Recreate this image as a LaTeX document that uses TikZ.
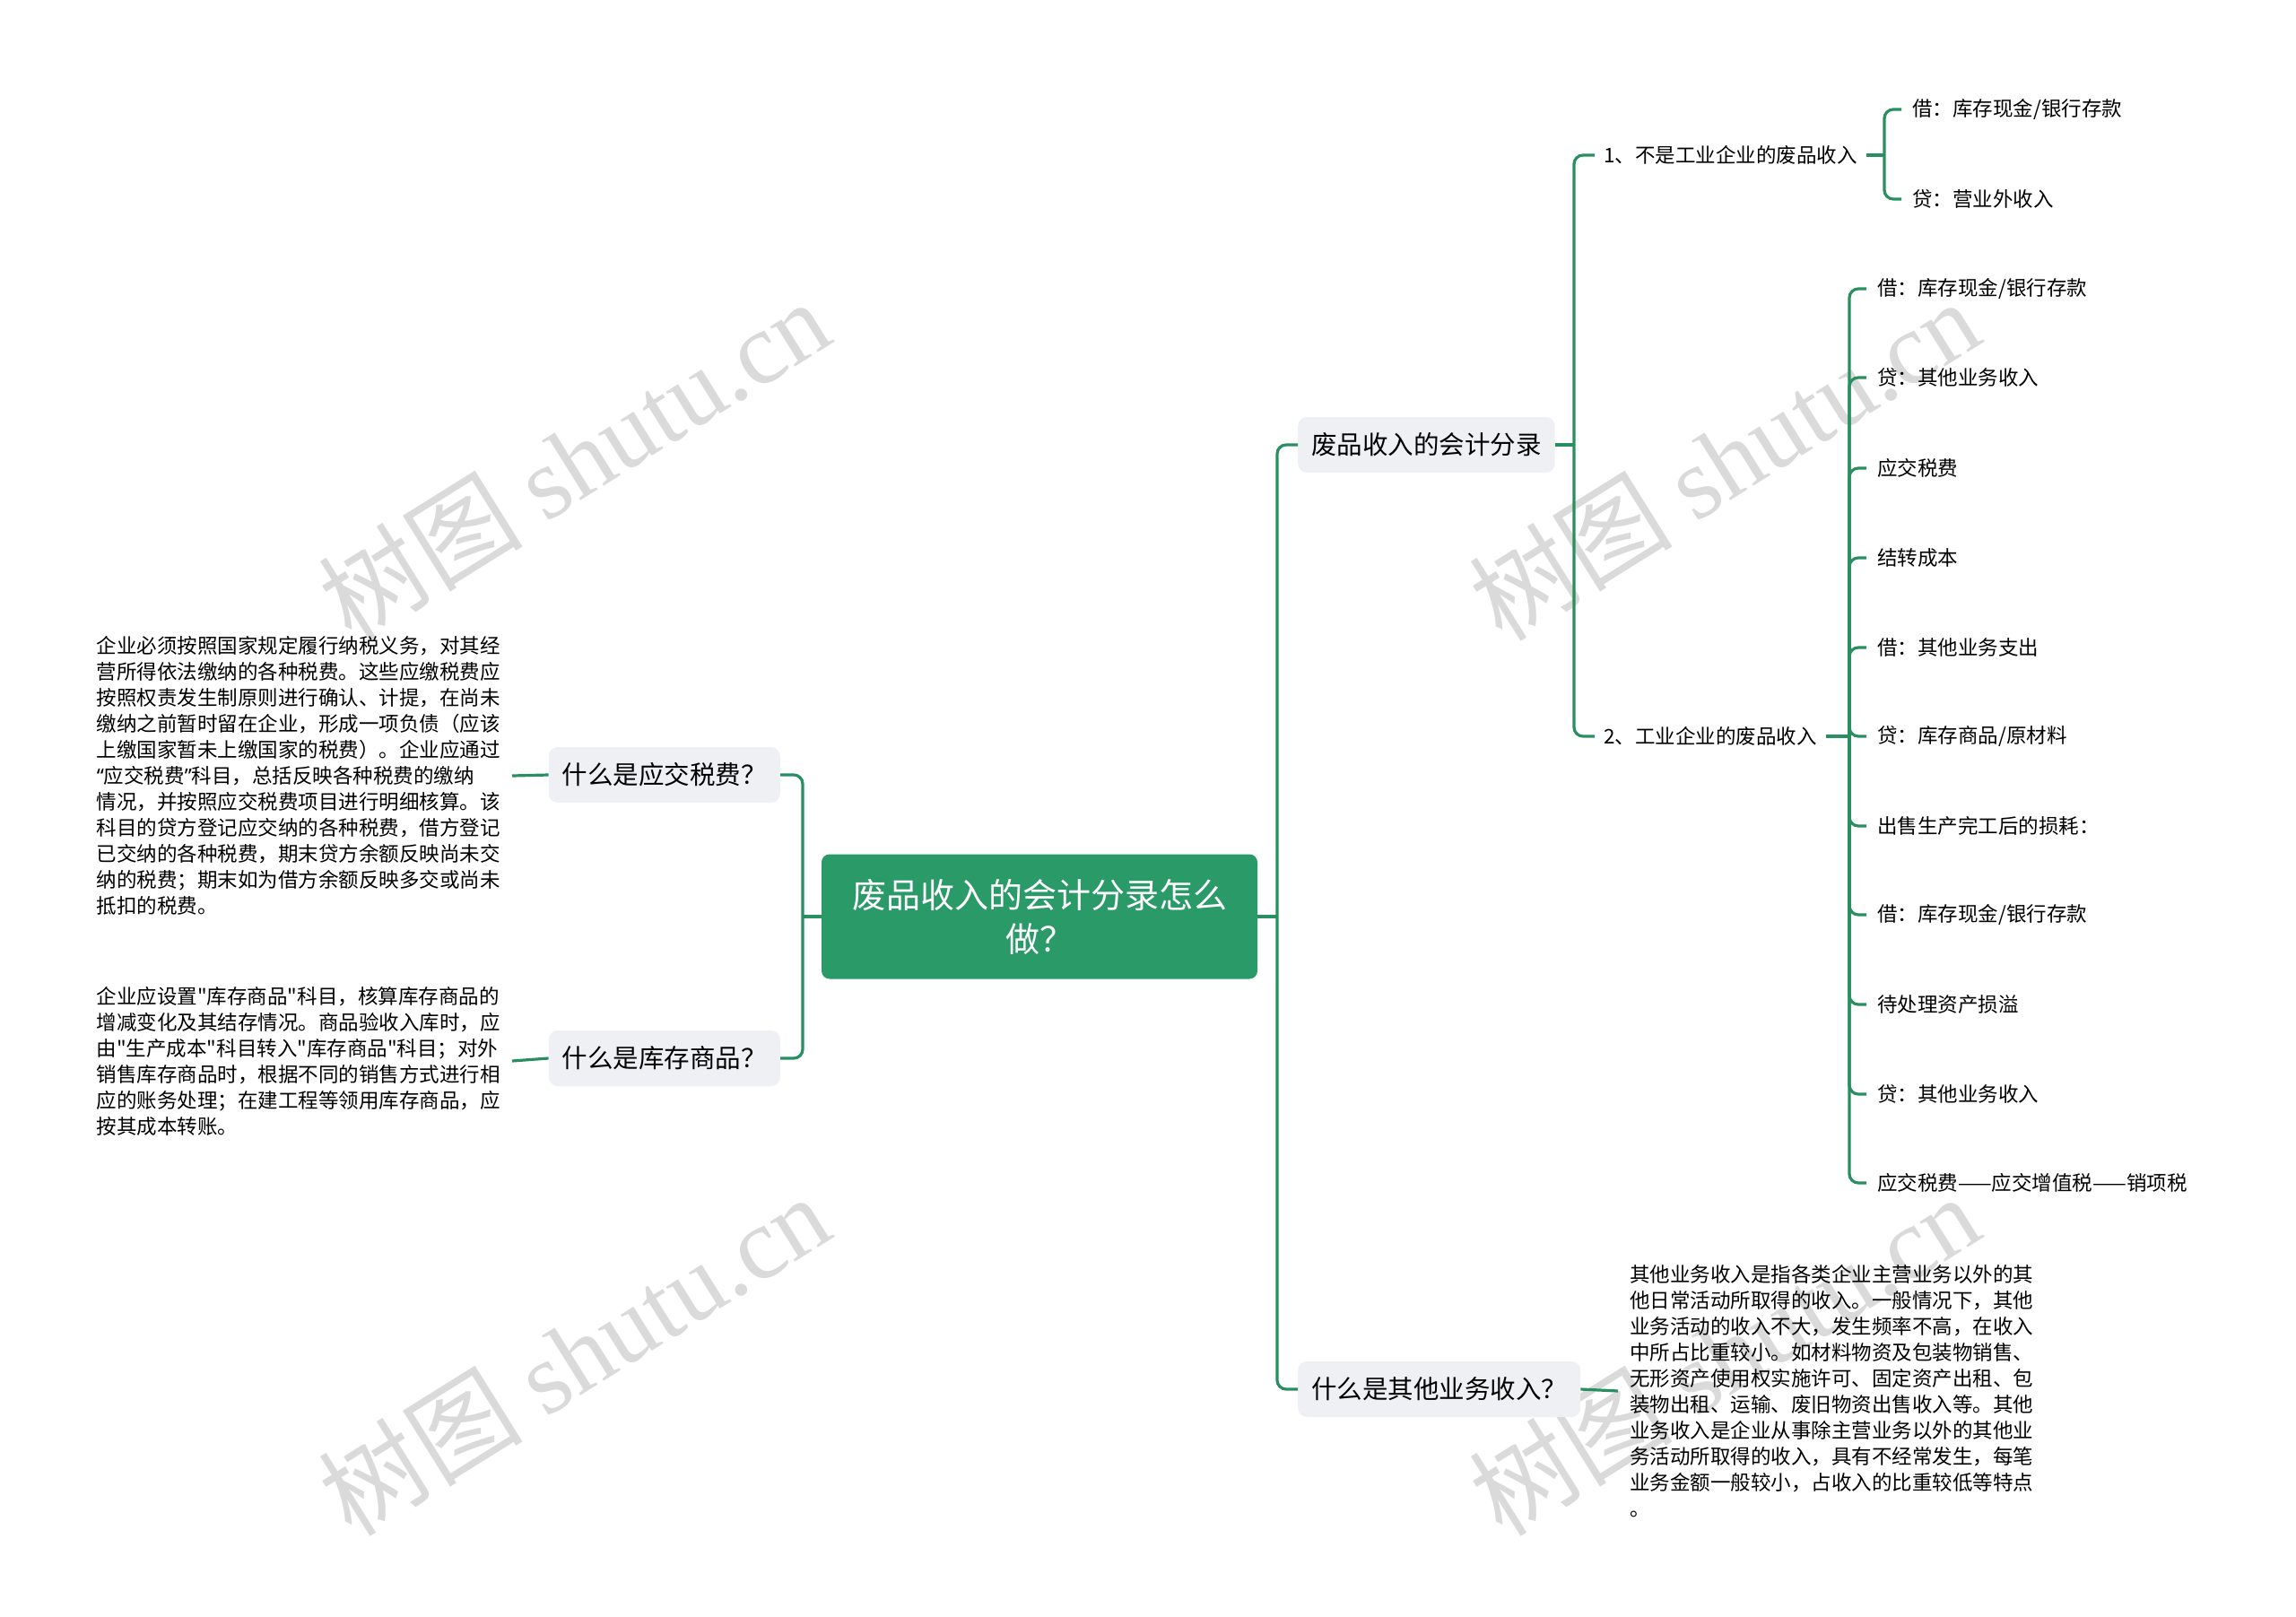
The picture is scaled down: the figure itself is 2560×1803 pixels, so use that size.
\documentclass[tikz,border=0pt]{standalone}
\usepackage{fontspec}
\setmainfont{Noto Sans CJK SC}
\newfontfamily\cjkfont{Noto Sans CJK SC}
\newfontfamily\qfont{Noto Sans}
\newfontfamily\wmlatin{Liberation Serif}
\definecolor{mapgreen}{HTML}{2A9A68}
\definecolor{linegreen}{HTML}{2A8F60}
\definecolor{topicgray}{HTML}{EEF0F3}
\definecolor{wmgray}{HTML}{DADADA}

\begin{document}
\begin{tikzpicture}[x=1pt,y=-1pt]
\tikzstyle{rootbox}=[rectangle,rounded corners=9pt,fill=mapgreen,text=white,align=center,minimum width=486pt,minimum height=139pt,font=\cjkfont\fontsize{38}{49}\selectfont]
\tikzstyle{topic}=[rectangle,rounded corners=10pt,fill=topicgray,minimum height=62pt,inner xsep=15pt,font=\cjkfont\fontsize{28.5}{34}\selectfont]
\tikzstyle{sub}=[rectangle,inner xsep=10pt,anchor=west,font=\cjkfont\fontsize{22.5}{29}\selectfont]
\tikzstyle{leaf}=[rectangle,inner xsep=12pt,anchor=west,font=\cjkfont\fontsize{22.5}{29}\selectfont]
\tikzstyle{note}=[rectangle,inner xsep=13pt,align=left,font=\cjkfont\fontsize{22.5}{29}\selectfont]
\tikzstyle{link}=[draw=linegreen,line width=3.2pt,rounded corners=10pt]
\tikzstyle{wmark}=[text=wmgray,rotate=32,font=\cjkfont\fontsize{114}{114}\selectfont]
\path[fill=white,use as bounding box] (0,0) rectangle (2560,1803);
\node [wmark] (wm1) at (640,512) {树图 {\wmlatin shutu.cn}};
\node [wmark] (wm2) at (1922,512) {树图 {\wmlatin shutu.cn}};
\node [wmark] (wm3) at (640,1510) {树图 {\wmlatin shutu.cn}};
\node [wmark] (wm4) at (1922,1510) {树图 {\wmlatin shutu.cn}};
\node [rootbox] (root) at (1159,1022) {废品收入的会计分录怎么\\做？};
\node [topic,anchor=west] (entry) at (1447,496) {废品收入的会计分录};
\node [topic,anchor=west] (other) at (1447,1549) {什么是其他业务收入？};
\node [topic,anchor=east] (tax) at (870,864) {什么是应交税费？};
\node [topic,anchor=east] (stock) at (870,1180) {什么是库存商品？};
\node [sub] (nonind) at (1778,173) {1、不是工业企业的废品收入};
\node [sub] (ind) at (1778,821) {2、工业企业的废品收入};
\node [leaf] (n1) at (2120,122) {借：库存现金/银行存款};
\node [leaf] (n2) at (2120,222) {贷：营业外收入};
\node [leaf] (i1) at (2081,322) {借：库存现金/银行存款};
\node [leaf] (i2) at (2081,421) {贷：其他业务收入};
\node [leaf] (i3) at (2081,522) {应交税费};
\node [leaf] (i4) at (2081,622) {结转成本};
\node [leaf] (i5) at (2081,722) {借：其他业务支出};
\node [leaf] (i6) at (2081,821) {贷：库存商品/原材料};
\node [leaf] (i7) at (2081,921) {出售生产完工后的损耗：};
\node [leaf] (i8) at (2081,1020) {借：库存现金/银行存款};
\node [leaf] (i9) at (2081,1120) {待处理资产损溢};
\node [leaf] (i10) at (2081,1220) {贷：其他业务收入};
\node [leaf] (i11) at (2081,1319) {应交税费——应交增值税——销项税};
\node [note,anchor=east] (taxtext) at (571,865) {企业必须按照国家规定履行纳税义务，对其经\\营所得依法缴纳的各种税费。这些应缴税费应\\按照权责发生制原则进行确认、计提，在尚未\\缴纳之前暂时留在企业，形成一项负债（应该\\上缴国家暂未上缴国家的税费）。企业应通过\\{\qfont “}应交税费{\qfont ”}科目，总括反映各种税费的缴纳\\情况，并按照应交税费项目进行明细核算。该\\科目的贷方登记应交纳的各种税费，借方登记\\已交纳的各种税费，期末贷方余额反映尚未交\\纳的税费；期末如为借方余额反映多交或尚未\\抵扣的税费。};
\node [note,anchor=east] (stocktext) at (571,1183) {企业应设置"库存商品"科目，核算库存商品的\\增减变化及其结存情况。商品验收入库时，应\\由"生产成本"科目转入"库存商品"科目；对外\\销售库存商品时，根据不同的销售方式进行相\\应的账务处理；在建工程等领用库存商品，应\\按其成本转账。};
\node [note,anchor=west] (othertext) at (1804,1551) {其他业务收入是指各类企业主营业务以外的其\\他日常活动所取得的收入。一般情况下，其他\\业务活动的收入不大，发生频率不高，在收入\\中所占比重较小。如材料物资及包装物销售、\\无形资产使用权实施许可、固定资产出租、包\\装物出租、运输、废旧物资出售收入等。其他\\业务收入是企业从事除主营业务以外的其他业\\务活动所取得的收入，具有不经常发生，每笔\\业务金额一般较小，占收入的比重较低等特点\\。};
\coordinate (rj) at (1424,1022);
\coordinate (lj) at (895,1022);
\coordinate (ej) at (1755,496);
\coordinate (nj) at (2101,173);
\coordinate (ij) at (2062,821);
\draw [link] (root.east) -- (rj);
\draw [link] (rj) |- (entry.west);
\draw [link] (rj) |- (other.west);
\draw [link] (root.west) -- (lj);
\draw [link] (lj) |- (tax.east);
\draw [link] (lj) |- (stock.east);
\draw [link] (tax.west) -- (taxtext.east);
\draw [link] (stock.west) -- (stocktext.east);
\draw [link] (other.east) -- (othertext.west);
\draw [link] (entry.east) -- (ej);
\draw [link] (ej) |- (nonind.west);
\draw [link] (ej) |- (ind.west);
\draw [link] (nonind.east) -- (nj);
\draw [link] (nj) |- (n1.west);
\draw [link] (nj) |- (n2.west);
\draw [link] (ind.east) -- (ij);
\draw [link] (ij) |- (i1.west);
\draw [link] (ij) |- (i2.west);
\draw [link] (ij) |- (i3.west);
\draw [link] (ij) |- (i4.west);
\draw [link] (ij) |- (i5.west);
\draw [link] (ij) |- (i6.west);
\draw [link] (ij) |- (i7.west);
\draw [link] (ij) |- (i8.west);
\draw [link] (ij) |- (i9.west);
\draw [link] (ij) |- (i10.west);
\draw [link] (ij) |- (i11.west);
\end{tikzpicture}
\end{document}
